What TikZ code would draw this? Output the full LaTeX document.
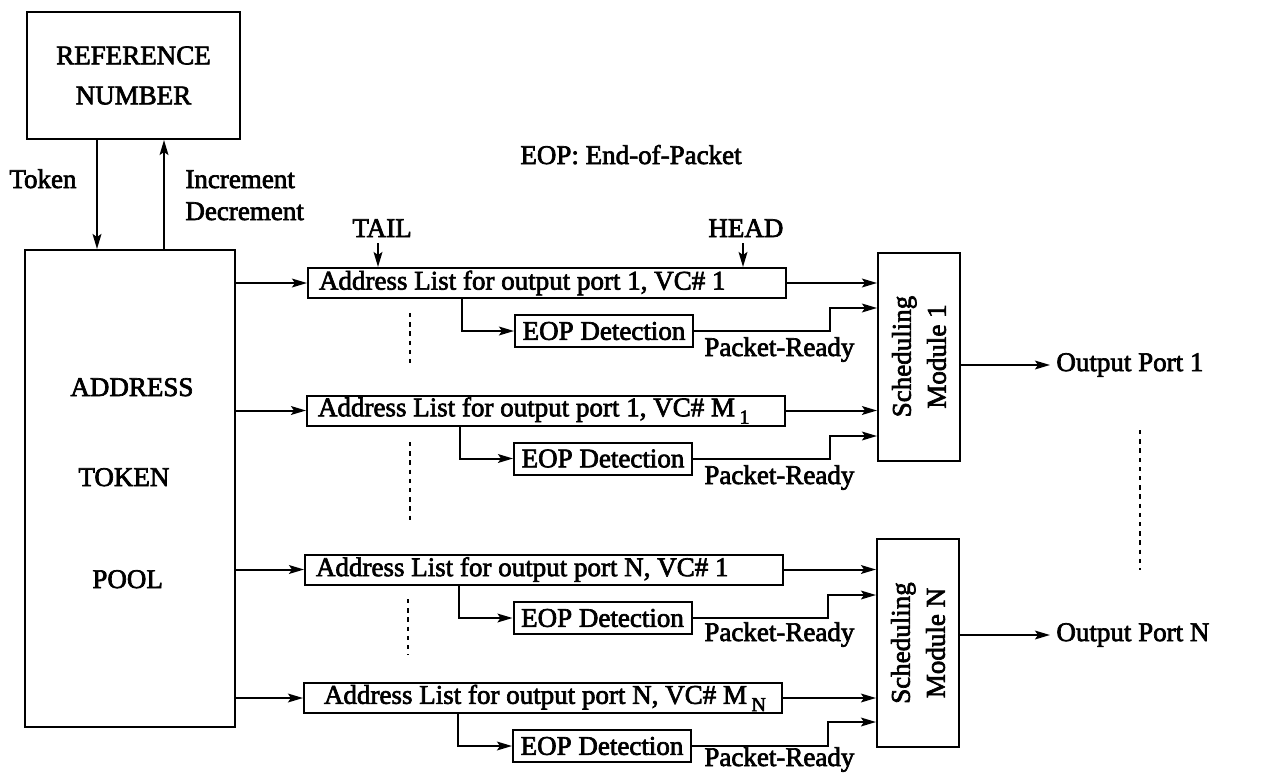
\documentclass[tikz,border=0pt]{standalone}
\usepackage{fontspec}
\setmainfont{Liberation Serif}[RawFeature={embolden=2.5}]
\usetikzlibrary{arrows.meta}
\newcommand\labfont{\fontsize{13.5}{20}\selectfont}
\newcommand\lowsub[1]{\,\raisebox{-0.6ex}{\fontsize{10}{10}\selectfont #1}}
\newcommand\listtext[1]{\makebox[228pt][l]{#1}}
\begin{document}
\begin{tikzpicture}[x=0.5pt,y=-0.5pt,
  every node/.style={font=\labfont},
  blk/.style={draw, line width=1pt, inner sep=0pt},
  listbox/.style={blk, anchor=west, minimum height=15pt, inner xsep=5.5pt},
  eopbox/.style={blk, minimum width=89pt, minimum height=16pt},
  schedbox/.style={blk, minimum width=41pt, minimum height=104pt},
  schedtext/.style={rotate=90, align=center, font=\fontsize{13.5}{17.5}\selectfont},
  lbl/.style={inner sep=0pt, anchor=base west},
  wire/.style={line width=1pt},
  arr/.style={wire, -{Stealth[length=7.5pt,width=4.4pt,inset=1.5pt]}},
  dots/.style={line width=1.1pt, dash pattern=on 2.2pt off 2.4pt},
]
\useasboundingbox (0,0) rectangle (1262,777);

% reference number and address token pool
\node[blk, minimum width=106.5pt, minimum height=63.5pt, align=center] (ref) at (133.5,75.5) {REFERENCE\\NUMBER};
\node[blk, minimum width=105pt, minimum height=238.5pt] (pool) at (130,488.5) {};
\node[lbl] (pa) at (70,396) {ADDRESS};
\node[lbl] (pt) at (78,486) {TOKEN};
\node[lbl] (pp) at (92,588) {POOL};

\coordinate (tk) at (97,0);
\coordinate (ic) at (164,0);
\draw[arr] (tk |- ref.south) -- (tk |- pool.north);
\draw[arr] (ic |- pool.north) -- (ic |- ref.south);
\node[lbl] (ltok) at (9,188) {Token};
\node[lbl] (linc) at (185,188) {Increment};
\node[lbl] (ldec) at (185,220) {Decrement};

\node[lbl] (leop) at (520,164) {EOP: End-of-Packet};

% address lists
\node[listbox] (al1) at (307,283) {\listtext{Address List for output port 1, VC\# 1}};
\node[listbox] (al2) at (306,410.5) {\listtext{Address List for output port 1, VC\# M\lowsub{1}}};
\node[listbox] (al3) at (304,569.5) {\listtext{Address List for output port N, VC\# 1}};
\node[listbox] (al4) at (303,698) {\listtext{\hspace*{4.5pt}Address List for output port N, VC\# M\lowsub{N}}};

\node[lbl] (tail) at (352,237) {TAIL};
\node[lbl] (head) at (708,237) {HEAD};
\coordinate (ta) at (378,0);
\coordinate (hd) at (743,0);
\draw[arr, shorten <=3pt] (ta |- tail.south) -- (ta |- al1.north);
\draw[arr, shorten <=3pt] (hd |- head.south) -- (hd |- al1.north);

\foreach \i in {1,...,4}
  \draw[arr] (pool.east |- al\i.west) -- (al\i.west);

% end-of-packet detectors
\node[eopbox] (eop1) at (604,331) {EOP Detection};
\node[eopbox] (eop2) at (603,458.5) {EOP Detection};
\node[eopbox] (eop3) at (602.5,618) {EOP Detection};
\node[eopbox] (eop4) at (602,746) {EOP Detection};

\coordinate (b1) at (462,0);
\coordinate (b2) at (460,0);
\coordinate (b3) at (459,0);
\coordinate (b4) at (458,0);
\foreach \i in {1,...,4}
  \draw[arr] (b\i |- al\i.south) |- (eop\i.west);

\node[lbl] (pr1) at (704,356) {Packet-Ready};
\node[lbl] (pr2) at (704,484) {Packet-Ready};
\node[lbl] (pr3) at (704,641) {Packet-Ready};
\node[lbl] (pr4) at (704,766) {Packet-Ready};

% scheduling modules
\node[schedbox] (sm1) at (919,356.5) {};
\node[schedtext] (sm1t) at (sm1) {Scheduling\\Module 1};
\node[schedbox] (sm2) at (918,643) {};
\node[schedtext] (sm2t) at (sm2) {Scheduling\\Module N};

\draw[arr] (al1.east) -- (al1.east -| sm1.west);
\draw[arr] (al2.east) -- (al2.east -| sm1.west);
\draw[arr] (al3.east) -- (al3.east -| sm2.west);
\draw[arr] (al4.east) -- (al4.east -| sm2.west);

\coordinate (j1) at (830,308);
\coordinate (j2) at (830,436);
\coordinate (j3) at (828,595);
\coordinate (j4) at (828,722);
\draw[arr] (eop1.east) -| (j1) -- (j1 -| sm1.west);
\draw[arr] (eop2.east) -| (j2) -- (j2 -| sm1.west);
\draw[arr] (eop3.east) -| (j3) -- (j3 -| sm2.west);
\draw[arr] (eop4.east) -| (j4) -- (j4 -| sm2.west);

% output ports
\node[anchor=west, inner xsep=3pt, inner ysep=0pt] (o1) at (1050,365) {Output Port 1};
\node[anchor=west, inner xsep=3pt, inner ysep=0pt] (o2) at (1050,635) {Output Port N};
\draw[arr] (sm1.east |- o1.west) -- (o1.west);
\draw[arr] (sm2.east |- o2.west) -- (o2.west);

% continuation marks
\draw[dots] (410,313) -- (410,368);
\draw[dots] (410,442) -- (410,523);
\draw[dots] (408,599) -- (408,655);
\draw[dots] (1140,430) -- (1140,570);
\end{tikzpicture}
\end{document}
